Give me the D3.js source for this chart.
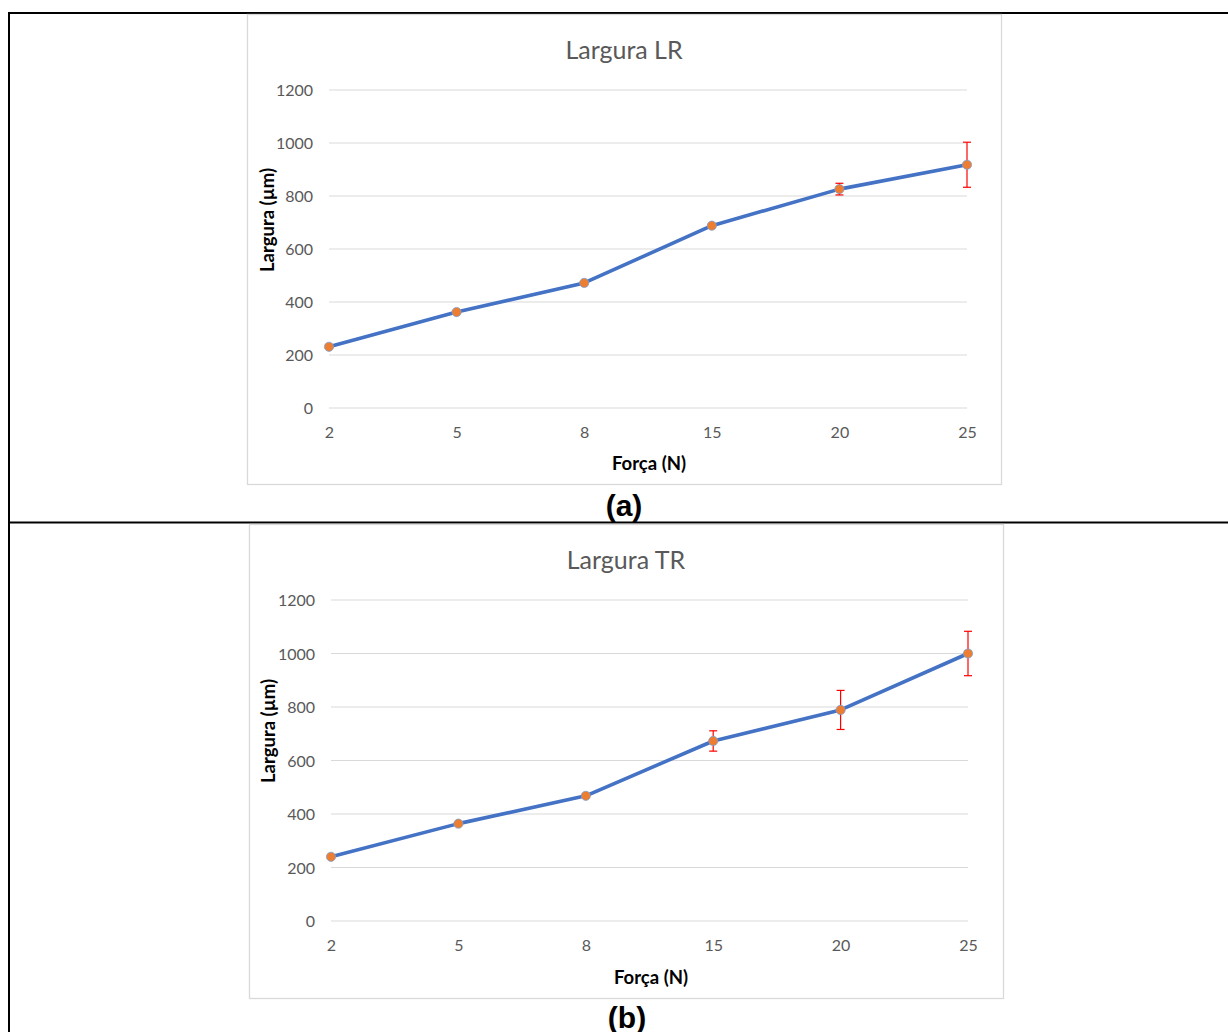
<!DOCTYPE html>
<html><head><meta charset="utf-8">
<script src="https://cdn.jsdelivr.net/npm/d3@7"></script>
<style>
html,body{margin:0;padding:0;background:#fff;}
svg{display:block;}
</style></head>
<body>
<svg id="chart" width="1228" height="1032"></svg>
<script>
// ---- data ----
const categories = ["2", "5", "8", "15", "20", "25"];
const yTicks = [0, 200, 400, 600, 800, 1000, 1200];
const lrValues = [231, 362, 472, 688, 826, 918];
const lrErrors = [6, 4, 5, 5, 22, 85];
const trValues = [240, 364, 468, 673, 789, 1000];
const trErrors = [5, 4, 4, 38, 73, 83];
const titles = ["Largura LR", "Largura TR"];
const panelLabels = ["(a)", "(b)"];
const xTitle = "Força (N)";
const yTitle = "Largura (µm)";

const svg = d3.select("#chart");
const FONT = "Lato, 'Open Sans', sans-serif";

// outer table lines
svg.append("line").attr("x1", 9).attr("x2", 9).attr("y1", 12).attr("y2", 1032)
  .attr("stroke", "#000").attr("stroke-width", 2);
svg.append("line").attr("x1", 8).attr("x2", 1228).attr("y1", 13).attr("y2", 13)
  .attr("stroke", "#000").attr("stroke-width", 2);
svg.append("line").attr("x1", 8).attr("x2", 1228).attr("y1", 522.5).attr("y2", 522.5)
  .attr("stroke", "#000").attr("stroke-width", 2);

function drawPanel(p) {
  const g = svg.append("g");
  // chart frame
  g.append("rect").attr("x", p.box[0] + 0.5).attr("y", p.box[1] + 0.5)
    .attr("width", p.box[2] - p.box[0]).attr("height", p.box[3] - p.box[1])
    .attr("fill", "#fff").attr("stroke", "#d9d9d9").attr("stroke-width", 1.3);

  const x = d3.scalePoint().domain(categories).range([p.x0, p.x1]).padding(0);
  const y = d3.scaleLinear().domain([0, 1200]).range([p.y0, p.y1]);

  // gridlines
  g.append("g").selectAll("line").data(yTicks).join("line")
    .attr("x1", p.x0).attr("x2", p.x1)
    .attr("y1", d => y(d)).attr("y2", d => y(d))
    .attr("stroke", "#d9d9d9").attr("stroke-width", 1);

  // y axis labels via d3 axis
  const ya = g.append("g").attr("transform", `translate(${p.x0 - 16},0)`)
    .call(d3.axisLeft(y).tickValues(yTicks).tickFormat(d3.format("d")).tickSize(0).tickPadding(0));
  ya.select(".domain").remove();
  ya.selectAll("text").attr("font-family", FONT).attr("font-size", 16)
    .attr("fill", "#595959").attr("dy", "0.35em");

  // x axis labels
  const xa = g.append("g").attr("transform", `translate(0,${p.y0 + 24})`)
    .call(d3.axisBottom(x).tickSize(0).tickPadding(0));
  xa.select(".domain").remove();
  xa.selectAll("text").attr("font-family", FONT).attr("font-size", 16)
    .attr("fill", "#595959").attr("dy", "0.35em").attr("y", 0);

  // title
  g.append("text").attr("x", p.titleX).attr("y", p.titleY).attr("text-anchor", "middle")
    .attr("font-family", FONT).attr("font-size", 25).attr("fill", "#595959")
    .attr("dominant-baseline", "central").text(p.title);

  // axis titles
  g.append("text").attr("x", p.xTitleX).attr("y", p.xTitleY).attr("text-anchor", "middle")
    .attr("dominant-baseline", "central")
    .attr("font-family", FONT).attr("font-size", 18.5).attr("font-weight", "bold")
    .attr("fill", "#000").text(xTitle);
  g.append("text").attr("transform", `translate(${p.yTitleX},${p.yTitleY}) rotate(-90)`)
    .attr("text-anchor", "middle").attr("dominant-baseline", "central")
    .attr("font-family", FONT).attr("font-size", 18.5).attr("font-weight", "bold")
    .attr("fill", "#000").text(yTitle);

  const data = categories.map((c, i) => ({c, v: p.values[i], e: p.errors[i]}));

  // line
  g.append("path").datum(data)
    .attr("d", d3.line().x(d => x(d.c)).y(d => y(d.v)))
    .attr("fill", "none").attr("stroke", "#4472C4").attr("stroke-width", 3.6)
    .attr("stroke-linejoin", "round");

  // error bars
  const eb = g.append("g").attr("stroke", "#FF0000").attr("stroke-width", 1.2);
  eb.selectAll(".v").data(data).join("line")
    .attr("x1", d => x(d.c)).attr("x2", d => x(d.c))
    .attr("y1", d => y(d.v - d.e)).attr("y2", d => y(d.v + d.e));
  eb.selectAll(".t").data(data).join("line")
    .attr("x1", d => x(d.c) - 4).attr("x2", d => x(d.c) + 4)
    .attr("y1", d => y(d.v + d.e)).attr("y2", d => y(d.v + d.e));
  eb.selectAll(".b").data(data).join("line")
    .attr("x1", d => x(d.c) - 4).attr("x2", d => x(d.c) + 4)
    .attr("y1", d => y(d.v - d.e)).attr("y2", d => y(d.v - d.e));

  // markers
  g.append("g").selectAll("circle").data(data).join("circle")
    .attr("cx", d => x(d.c)).attr("cy", d => y(d.v)).attr("r", 4.6)
    .attr("fill", "#ED7D31").attr("stroke", "#7f9fcf").attr("stroke-width", 0.8);

  // panel label
  svg.append("text").attr("x", p.labelX).attr("y", p.labelY).attr("text-anchor", "middle")
    .attr("dominant-baseline", "central")
    .attr("font-family", "'Liberation Sans', Arial, sans-serif").attr("font-size", 30)
    .attr("font-weight", "bold").attr("fill", "#000").text(p.label);
}

drawPanel({
  box: [247, 14, 1001, 484], x0: 329, x1: 967, y0: 408, y1: 90,
  values: lrValues, errors: lrErrors, title: titles[0], label: panelLabels[0],
  titleX: 624, titleY: 49, xTitleX: 649, xTitleY: 463, yTitleX: 267, yTitleY: 220,
  labelX: 624, labelY: 505
});
drawPanel({
  box: [249, 524, 1003, 998], x0: 331, x1: 968, y0: 921, y1: 600,
  values: trValues, errors: trErrors, title: titles[1], label: panelLabels[1],
  titleX: 626, titleY: 559, xTitleX: 651, xTitleY: 977, yTitleX: 268, yTitleY: 731,
  labelX: 627, labelY: 1017
});
</script>
</body></html>
